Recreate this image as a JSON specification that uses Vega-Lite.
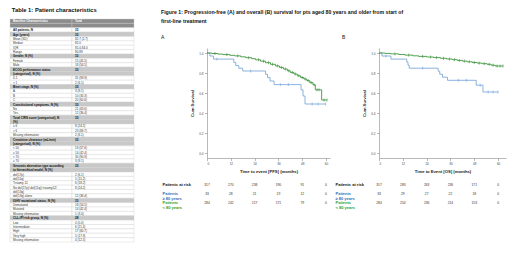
{
  "$schema": "https://vega.github.io/schema/vega-lite/v6.json",
  "background": "white",
  "padding": {"left": 9, "top": 6, "right": 4, "bottom": 4},
  "config": {
    "font": "Liberation Sans",
    "view": {"stroke": null},
    "axis": {"domainColor": "#8a8a8a", "tickColor": "#8a8a8a", "tickSize": 2.5, "domainWidth": 0.6, "tickWidth": 0.6, "labelFontSize": 3, "labelColor": "#444", "labelPadding": 1.5, "titleFontSize": 4.2, "titleFontWeight": "bold", "titleColor": "#222", "grid": false},
    "title": {"color": "#111"}
  },
  "resolve": {"scale": {"color": "independent"}},
  "datasets": {
    "tab": [
      {"line": 1, "label": "Baseline Characteristics", "total": "Total", "kind": "header"},
      {"line": 2, "label": "", "total": "", "kind": "header"},
      {"line": 3, "label": "All patients, N", "total": "33", "kind": "bold"},
      {"line": 4, "label": "Age (years)", "total": "33", "kind": "section"},
      {"line": 5, "label": "Mean (SD)", "total": "82.7 (2.7)", "kind": "item"},
      {"line": 6, "label": "Median", "total": "82.0", "kind": "item"},
      {"line": 7, "label": "IQR", "total": "81.0-84.0", "kind": "item"},
      {"line": 8, "label": "Range", "total": "80-89", "kind": "item"},
      {"line": 9, "label": "Gender, N (%)", "total": "33", "kind": "section"},
      {"line": 10, "label": "Female", "total": "15 (45.5)", "kind": "item"},
      {"line": 11, "label": "Male", "total": "18 (54.5)", "kind": "item"},
      {"line": 12, "label": "ECOG performance status", "total": "33", "kind": "section"},
      {"line": 13, "label": "(categorical), N (%)", "total": "", "kind": "section"},
      {"line": 14, "label": "0-1", "total": "31 (93.9)", "kind": "item"},
      {"line": 15, "label": "> 1", "total": "2 (6.1)", "kind": "item"},
      {"line": 16, "label": "Binet stage, N (%)", "total": "33", "kind": "section"},
      {"line": 17, "label": "A", "total": "3 (9.1)", "kind": "item"},
      {"line": 18, "label": "B", "total": "10 (30.3)", "kind": "item"},
      {"line": 19, "label": "C", "total": "20 (60.6)", "kind": "item"},
      {"line": 20, "label": "Constitutional symptoms, N (%)", "total": "33", "kind": "section"},
      {"line": 21, "label": "No", "total": "21 (63.6)", "kind": "item"},
      {"line": 22, "label": "Yes", "total": "12 (36.4)", "kind": "item"},
      {"line": 23, "label": "Total CIRS score (categorical), N", "total": "33", "kind": "section"},
      {"line": 24, "label": "(%)", "total": "", "kind": "section"},
      {"line": 25, "label": "≤ 6", "total": "8 (24.2)", "kind": "item"},
      {"line": 26, "label": "> 6", "total": "23 (69.7)", "kind": "item"},
      {"line": 27, "label": "Missing information", "total": "2 (6.1)", "kind": "item"},
      {"line": 28, "label": "Creatinine clearance (mL/min)", "total": "33", "kind": "section"},
      {"line": 29, "label": "(categorical), N (%)", "total": "", "kind": "section"},
      {"line": 30, "label": "< 50", "total": "19 (57.6)", "kind": "item"},
      {"line": 31, "label": "≥ 50", "total": "14 (42.4)", "kind": "item"},
      {"line": 32, "label": "< 70", "total": "30 (90.9)", "kind": "item"},
      {"line": 33, "label": "≥ 70", "total": "3 (9.1)", "kind": "item"},
      {"line": 34, "label": "Genomic aberration type according", "total": "33", "kind": "section"},
      {"line": 35, "label": "to hierarchical model, N (%)", "total": "", "kind": "section"},
      {"line": 36, "label": "del(17p)", "total": "2 (6.1)", "kind": "item"},
      {"line": 37, "label": "del(11q)", "total": "5 (15.2)", "kind": "item"},
      {"line": 38, "label": "Trisomy 12", "total": "6 (18.2)", "kind": "item"},
      {"line": 39, "label": "No del(17p)/ del(11q)/ trisomy12/", "total": "8 (24.2)", "kind": "item"},
      {"line": 40, "label": "del(13q)", "total": "", "kind": "item"},
      {"line": 41, "label": "del(13q) alone", "total": "12 (36.4)", "kind": "item"},
      {"line": 42, "label": "IGHV mutational status, N (%)", "total": "33", "kind": "section"},
      {"line": 43, "label": "Unmutated", "total": "18 (54.5)", "kind": "item"},
      {"line": 44, "label": "Mutated", "total": "14 (42.4)", "kind": "item"},
      {"line": 45, "label": "Missing information", "total": "1 (3.0)", "kind": "item"},
      {"line": 46, "label": "CLL-IPI risk group, N (%)", "total": "28", "kind": "section"},
      {"line": 47, "label": "Low", "total": "0 (0.0)", "kind": "item"},
      {"line": 48, "label": "Intermediate", "total": "6 (21.4)", "kind": "item"},
      {"line": 49, "label": "High", "total": "17 (60.7)", "kind": "item"},
      {"line": 50, "label": "Very high", "total": "5 (17.9)", "kind": "item"},
      {"line": 51, "label": "Missing information", "total": "4 (12.5)", "kind": "item"}
    ],
    "km": [
      {"panel": "A", "grp": "≥ 80", "t": 0, "s": 1.0, "c": 0},
      {"panel": "A", "grp": "≥ 80", "t": 1.5, "s": 0.970, "c": 0},
      {"panel": "A", "grp": "≥ 80", "t": 3.3, "s": 0.939, "c": 0},
      {"panel": "A", "grp": "≥ 80", "t": 5, "s": 0.939, "c": 1},
      {"panel": "A", "grp": "≥ 80", "t": 13.5, "s": 0.906, "c": 0},
      {"panel": "A", "grp": "≥ 80", "t": 14.5, "s": 0.874, "c": 0},
      {"panel": "A", "grp": "≥ 80", "t": 16, "s": 0.848, "c": 0},
      {"panel": "A", "grp": "≥ 80", "t": 18, "s": 0.820, "c": 0},
      {"panel": "A", "grp": "≥ 80", "t": 22, "s": 0.820, "c": 1},
      {"panel": "A", "grp": "≥ 80", "t": 29.5, "s": 0.787, "c": 0},
      {"panel": "A", "grp": "≥ 80", "t": 30.5, "s": 0.754, "c": 0},
      {"panel": "A", "grp": "≥ 80", "t": 31.8, "s": 0.720, "c": 0},
      {"panel": "A", "grp": "≥ 80", "t": 33.8, "s": 0.684, "c": 0},
      {"panel": "A", "grp": "≥ 80", "t": 37, "s": 0.684, "c": 1},
      {"panel": "A", "grp": "≥ 80", "t": 41, "s": 0.684, "c": 1},
      {"panel": "A", "grp": "≥ 80", "t": 47.4, "s": 0.632, "c": 0},
      {"panel": "A", "grp": "≥ 80", "t": 48.4, "s": 0.570, "c": 0},
      {"panel": "A", "grp": "≥ 80", "t": 49.4, "s": 0.490, "c": 0},
      {"panel": "A", "grp": "≥ 80", "t": 53, "s": 0.490, "c": 1},
      {"panel": "A", "grp": "≥ 80", "t": 56, "s": 0.490, "c": 1},
      {"panel": "A", "grp": "≥ 80", "t": 59.8, "s": 0.490, "c": 1},
      {"panel": "A", "grp": "< 80", "t": 0, "s": 1.0, "c": 0},
      {"panel": "A", "grp": "< 80", "t": 2.5, "s": 0.995, "c": 0},
      {"panel": "A", "grp": "< 80", "t": 4, "s": 0.995, "c": 1},
      {"panel": "A", "grp": "< 80", "t": 5.5, "s": 0.989, "c": 0},
      {"panel": "A", "grp": "< 80", "t": 8, "s": 0.984, "c": 0},
      {"panel": "A", "grp": "< 80", "t": 10, "s": 0.984, "c": 1},
      {"panel": "A", "grp": "< 80", "t": 11.5, "s": 0.977, "c": 0},
      {"panel": "A", "grp": "< 80", "t": 14, "s": 0.971, "c": 0},
      {"panel": "A", "grp": "< 80", "t": 15.5, "s": 0.971, "c": 1},
      {"panel": "A", "grp": "< 80", "t": 17, "s": 0.962, "c": 0},
      {"panel": "A", "grp": "< 80", "t": 19.5, "s": 0.953, "c": 0},
      {"panel": "A", "grp": "< 80", "t": 21, "s": 0.953, "c": 1},
      {"panel": "A", "grp": "< 80", "t": 22.5, "s": 0.943, "c": 0},
      {"panel": "A", "grp": "< 80", "t": 24.5, "s": 0.932, "c": 0},
      {"panel": "A", "grp": "< 80", "t": 26, "s": 0.932, "c": 1},
      {"panel": "A", "grp": "< 80", "t": 27, "s": 0.918, "c": 0},
      {"panel": "A", "grp": "< 80", "t": 28.5, "s": 0.918, "c": 1},
      {"panel": "A", "grp": "< 80", "t": 29.5, "s": 0.903, "c": 0},
      {"panel": "A", "grp": "< 80", "t": 31, "s": 0.903, "c": 1},
      {"panel": "A", "grp": "< 80", "t": 32, "s": 0.887, "c": 0},
      {"panel": "A", "grp": "< 80", "t": 33, "s": 0.887, "c": 1},
      {"panel": "A", "grp": "< 80", "t": 34.5, "s": 0.871, "c": 0},
      {"panel": "A", "grp": "< 80", "t": 35.5, "s": 0.871, "c": 1},
      {"panel": "A", "grp": "< 80", "t": 36.5, "s": 0.856, "c": 0},
      {"panel": "A", "grp": "< 80", "t": 37.5, "s": 0.856, "c": 1},
      {"panel": "A", "grp": "< 80", "t": 38.5, "s": 0.840, "c": 0},
      {"panel": "A", "grp": "< 80", "t": 39.5, "s": 0.840, "c": 1},
      {"panel": "A", "grp": "< 80", "t": 40.5, "s": 0.822, "c": 0},
      {"panel": "A", "grp": "< 80", "t": 41.2, "s": 0.822, "c": 1},
      {"panel": "A", "grp": "< 80", "t": 42, "s": 0.806, "c": 0},
      {"panel": "A", "grp": "< 80", "t": 43, "s": 0.806, "c": 1},
      {"panel": "A", "grp": "< 80", "t": 43.8, "s": 0.790, "c": 0},
      {"panel": "A", "grp": "< 80", "t": 44.5, "s": 0.790, "c": 1},
      {"panel": "A", "grp": "< 80", "t": 45.5, "s": 0.772, "c": 0},
      {"panel": "A", "grp": "< 80", "t": 46.3, "s": 0.772, "c": 1},
      {"panel": "A", "grp": "< 80", "t": 47.2, "s": 0.755, "c": 0},
      {"panel": "A", "grp": "< 80", "t": 48, "s": 0.755, "c": 1},
      {"panel": "A", "grp": "< 80", "t": 48.8, "s": 0.740, "c": 0},
      {"panel": "A", "grp": "< 80", "t": 49.5, "s": 0.740, "c": 1},
      {"panel": "A", "grp": "< 80", "t": 50.3, "s": 0.724, "c": 0},
      {"panel": "A", "grp": "< 80", "t": 51, "s": 0.724, "c": 1},
      {"panel": "A", "grp": "< 80", "t": 51.8, "s": 0.704, "c": 0},
      {"panel": "A", "grp": "< 80", "t": 52.5, "s": 0.704, "c": 1},
      {"panel": "A", "grp": "< 80", "t": 53.4, "s": 0.682, "c": 0},
      {"panel": "A", "grp": "< 80", "t": 54, "s": 0.682, "c": 1},
      {"panel": "A", "grp": "< 80", "t": 54.6, "s": 0.632, "c": 0},
      {"panel": "A", "grp": "< 80", "t": 55.5, "s": 0.632, "c": 1},
      {"panel": "A", "grp": "< 80", "t": 56.5, "s": 0.632, "c": 1},
      {"panel": "A", "grp": "< 80", "t": 57.8, "s": 0.530, "c": 0},
      {"panel": "A", "grp": "< 80", "t": 59, "s": 0.530, "c": 1},
      {"panel": "A", "grp": "< 80", "t": 60.5, "s": 0.530, "c": 1},
      {"panel": "B", "grp": "≥ 80", "t": 0, "s": 1.0, "c": 0},
      {"panel": "B", "grp": "≥ 80", "t": 1.5, "s": 0.970, "c": 0},
      {"panel": "B", "grp": "≥ 80", "t": 3.5, "s": 0.970, "c": 1},
      {"panel": "B", "grp": "≥ 80", "t": 6, "s": 0.939, "c": 0},
      {"panel": "B", "grp": "≥ 80", "t": 14, "s": 0.909, "c": 0},
      {"panel": "B", "grp": "≥ 80", "t": 14.6, "s": 0.879, "c": 0},
      {"panel": "B", "grp": "≥ 80", "t": 15.2, "s": 0.848, "c": 0},
      {"panel": "B", "grp": "≥ 80", "t": 22, "s": 0.848, "c": 1},
      {"panel": "B", "grp": "≥ 80", "t": 29.8, "s": 0.818, "c": 0},
      {"panel": "B", "grp": "≥ 80", "t": 30.6, "s": 0.788, "c": 0},
      {"panel": "B", "grp": "≥ 80", "t": 32, "s": 0.758, "c": 0},
      {"panel": "B", "grp": "≥ 80", "t": 34.5, "s": 0.727, "c": 0},
      {"panel": "B", "grp": "≥ 80", "t": 40, "s": 0.727, "c": 1},
      {"panel": "B", "grp": "≥ 80", "t": 44, "s": 0.727, "c": 1},
      {"panel": "B", "grp": "≥ 80", "t": 49, "s": 0.678, "c": 0},
      {"panel": "B", "grp": "≥ 80", "t": 51, "s": 0.678, "c": 1},
      {"panel": "B", "grp": "≥ 80", "t": 52.4, "s": 0.610, "c": 0},
      {"panel": "B", "grp": "≥ 80", "t": 55, "s": 0.610, "c": 1},
      {"panel": "B", "grp": "≥ 80", "t": 57.5, "s": 0.610, "c": 1},
      {"panel": "B", "grp": "≥ 80", "t": 60, "s": 0.610, "c": 1},
      {"panel": "B", "grp": "< 80", "t": 0, "s": 1.0, "c": 0},
      {"panel": "B", "grp": "< 80", "t": 3, "s": 0.996, "c": 0},
      {"panel": "B", "grp": "< 80", "t": 6, "s": 0.991, "c": 0},
      {"panel": "B", "grp": "< 80", "t": 8, "s": 0.991, "c": 1},
      {"panel": "B", "grp": "< 80", "t": 10, "s": 0.985, "c": 0},
      {"panel": "B", "grp": "< 80", "t": 13, "s": 0.979, "c": 0},
      {"panel": "B", "grp": "< 80", "t": 15, "s": 0.979, "c": 1},
      {"panel": "B", "grp": "< 80", "t": 17, "s": 0.972, "c": 0},
      {"panel": "B", "grp": "< 80", "t": 20, "s": 0.966, "c": 0},
      {"panel": "B", "grp": "< 80", "t": 22, "s": 0.966, "c": 1},
      {"panel": "B", "grp": "< 80", "t": 24, "s": 0.960, "c": 0},
      {"panel": "B", "grp": "< 80", "t": 26, "s": 0.960, "c": 1},
      {"panel": "B", "grp": "< 80", "t": 27.5, "s": 0.954, "c": 0},
      {"panel": "B", "grp": "< 80", "t": 29, "s": 0.954, "c": 1},
      {"panel": "B", "grp": "< 80", "t": 31, "s": 0.947, "c": 0},
      {"panel": "B", "grp": "< 80", "t": 32.5, "s": 0.947, "c": 1},
      {"panel": "B", "grp": "< 80", "t": 34, "s": 0.940, "c": 0},
      {"panel": "B", "grp": "< 80", "t": 35.5, "s": 0.940, "c": 1},
      {"panel": "B", "grp": "< 80", "t": 37, "s": 0.933, "c": 0},
      {"panel": "B", "grp": "< 80", "t": 38, "s": 0.933, "c": 1},
      {"panel": "B", "grp": "< 80", "t": 39.5, "s": 0.926, "c": 0},
      {"panel": "B", "grp": "< 80", "t": 40.5, "s": 0.926, "c": 1},
      {"panel": "B", "grp": "< 80", "t": 42, "s": 0.919, "c": 0},
      {"panel": "B", "grp": "< 80", "t": 43, "s": 0.919, "c": 1},
      {"panel": "B", "grp": "< 80", "t": 44.5, "s": 0.912, "c": 0},
      {"panel": "B", "grp": "< 80", "t": 45.5, "s": 0.912, "c": 1},
      {"panel": "B", "grp": "< 80", "t": 47, "s": 0.905, "c": 0},
      {"panel": "B", "grp": "< 80", "t": 48, "s": 0.905, "c": 1},
      {"panel": "B", "grp": "< 80", "t": 49.5, "s": 0.899, "c": 0},
      {"panel": "B", "grp": "< 80", "t": 50.5, "s": 0.899, "c": 1},
      {"panel": "B", "grp": "< 80", "t": 52, "s": 0.893, "c": 0},
      {"panel": "B", "grp": "< 80", "t": 53, "s": 0.893, "c": 1},
      {"panel": "B", "grp": "< 80", "t": 54.5, "s": 0.887, "c": 0},
      {"panel": "B", "grp": "< 80", "t": 55.5, "s": 0.887, "c": 1},
      {"panel": "B", "grp": "< 80", "t": 56.5, "s": 0.878, "c": 0},
      {"panel": "B", "grp": "< 80", "t": 57.5, "s": 0.878, "c": 1},
      {"panel": "B", "grp": "< 80", "t": 58.5, "s": 0.870, "c": 0},
      {"panel": "B", "grp": "< 80", "t": 59.5, "s": 0.870, "c": 1},
      {"panel": "B", "grp": "< 80", "t": 61, "s": 0.870, "c": 1},
      {"panel": "B", "grp": "< 80", "t": 62.5, "s": 0.870, "c": 1}
    ],
    "risk": [
      {"panel": "A", "row": "Patients at risk", "t": 0, "n": 317},
      {"panel": "A", "row": "Patients at risk", "t": 12, "n": 270},
      {"panel": "A", "row": "Patients at risk", "t": 24, "n": 238},
      {"panel": "A", "row": "Patients at risk", "t": 36, "n": 190},
      {"panel": "A", "row": "Patients at risk", "t": 48, "n": 91},
      {"panel": "A", "row": "Patients at risk", "t": 60, "n": 0},
      {"panel": "A", "row": "Patients|≥ 80 years", "t": 0, "n": 33},
      {"panel": "A", "row": "Patients|≥ 80 years", "t": 12, "n": 28},
      {"panel": "A", "row": "Patients|≥ 80 years", "t": 24, "n": 21},
      {"panel": "A", "row": "Patients|≥ 80 years", "t": 36, "n": 19},
      {"panel": "A", "row": "Patients|≥ 80 years", "t": 48, "n": 12},
      {"panel": "A", "row": "Patients|≥ 80 years", "t": 60, "n": 0},
      {"panel": "A", "row": "Patients|< 80 years", "t": 0, "n": 284},
      {"panel": "A", "row": "Patients|< 80 years", "t": 12, "n": 242},
      {"panel": "A", "row": "Patients|< 80 years", "t": 24, "n": 217},
      {"panel": "A", "row": "Patients|< 80 years", "t": 36, "n": 171},
      {"panel": "A", "row": "Patients|< 80 years", "t": 48, "n": 79},
      {"panel": "A", "row": "Patients|< 80 years", "t": 60, "n": 0},
      {"panel": "B", "row": "Patients at risk", "t": 0, "n": 317},
      {"panel": "B", "row": "Patients at risk", "t": 12, "n": 283},
      {"panel": "B", "row": "Patients at risk", "t": 24, "n": 263},
      {"panel": "B", "row": "Patients at risk", "t": 36, "n": 236},
      {"panel": "B", "row": "Patients at risk", "t": 48, "n": 171},
      {"panel": "B", "row": "Patients at risk", "t": 60, "n": 0},
      {"panel": "B", "row": "Patients|≥ 80 years", "t": 0, "n": 33},
      {"panel": "B", "row": "Patients|≥ 80 years", "t": 12, "n": 29},
      {"panel": "B", "row": "Patients|≥ 80 years", "t": 24, "n": 27},
      {"panel": "B", "row": "Patients|≥ 80 years", "t": 36, "n": 22},
      {"panel": "B", "row": "Patients|≥ 80 years", "t": 48, "n": 18},
      {"panel": "B", "row": "Patients|≥ 80 years", "t": 60, "n": 0},
      {"panel": "B", "row": "Patients|< 80 years", "t": 0, "n": 284},
      {"panel": "B", "row": "Patients|< 80 years", "t": 12, "n": 254},
      {"panel": "B", "row": "Patients|< 80 years", "t": 24, "n": 236},
      {"panel": "B", "row": "Patients|< 80 years", "t": 36, "n": 214},
      {"panel": "B", "row": "Patients|< 80 years", "t": 48, "n": 153},
      {"panel": "B", "row": "Patients|< 80 years", "t": 60, "n": 0}
    ]
  },
  "spacing": 26,
  "hconcat": [
    {
      "title": {"text": "Table 1: Patient characteristics", "anchor": "start", "fontSize": 5.8, "fontWeight": "bold", "offset": 6.5, "dx": 2},
      "width": 124,
      "height": 223,
      "data": {"name": "tab"},
      "transform": [{"fold": ["label", "total"], "as": ["col", "text"]}],
      "encoding": {
        "y": {"field": "line", "type": "ordinal", "axis": null, "scale": {"paddingInner": 0, "paddingOuter": 0}},
        "x": {"field": "col", "type": "nominal", "axis": null, "scale": {"domain": ["label", "total"], "paddingInner": 0, "paddingOuter": 0}}
      },
      "layer": [
        {
          "mark": {"type": "rect", "stroke": "#d2d2d2", "strokeWidth": 0.4},
          "encoding": {"color": {"field": "kind", "type": "nominal", "scale": {"domain": ["header", "section", "bold", "item"], "range": ["#8c8c8c", "#c8c8c8", "#ffffff", "#ffffff"]}, "legend": null}}
        },
        {
          "transform": [{"filter": "datum.kind == 'header'"}],
          "mark": {"type": "text", "align": "left", "dx": 3, "fontSize": 3, "fontWeight": "bold", "color": "#ffffff"},
          "encoding": {"x": {"field": "col", "type": "nominal", "bandPosition": 0}, "text": {"field": "text"}}
        },
        {
          "transform": [{"filter": "datum.kind == 'section' || datum.kind == 'bold'"}],
          "mark": {"type": "text", "align": "left", "dx": 3, "fontSize": 3, "fontWeight": "bold", "color": "#111111"},
          "encoding": {"x": {"field": "col", "type": "nominal", "bandPosition": 0}, "text": {"field": "text"}}
        },
        {
          "transform": [{"filter": "datum.kind == 'item'"}],
          "mark": {"type": "text", "align": "left", "dx": 3, "fontSize": 3, "color": "#333333"},
          "encoding": {"x": {"field": "col", "type": "nominal", "bandPosition": 0}, "text": {"field": "text"}}
        }
      ]
    },
    {
      "title": {"text": ["Figure 1: Progression-free (A) and overall (B) survival for pts aged 80 years and older from start of", "first-line treatment"], "anchor": "start", "fontSize": 5.2, "fontWeight": "bold", "lineHeight": 9, "offset": -5.3, "dx": 0},
      "spacing": 0,
      "vconcat": [
        {
          "width": 1,
          "height": 15.7,
          "data": {"values": [{"k": 1}]},
          "mark": {"type": "text", "text": ""}
        },
        {
          "spacing": 5,
          "hconcat": [
            {
              "title": {"text": "A", "anchor": "start", "fontSize": 5, "fontWeight": "normal", "offset": 8, "dx": -1},
              "spacing": 4,
              "vconcat": [
                {
                  "width": 123,
                  "height": 110,
                  "data": {"name": "km"},
                  "transform": [{"filter": "datum.panel == 'A'"}],
                  "encoding": {
                    "x": {"field": "t", "type": "quantitative", "scale": {"domain": [0, 62], "nice": false}, "axis": {"values": [0, 12, 24, 36, 48, 60], "title": "Time to event [PFS] (months)", "titlePadding": 4}},
                    "y": {"field": "s", "type": "quantitative", "scale": {"domain": [-0.05, 1.05], "nice": false, "zero": false}, "axis": {"values": [0, 0.2, 0.4, 0.6, 0.8, 1], "format": ".1f", "title": "Cum Survival", "titlePadding": 4}},
                    "color": {"field": "grp", "type": "nominal", "scale": {"domain": ["< 80", "≥ 80"], "range": ["#2a8a2a", "#6e9fd6"]}, "legend": null}
                  },
                  "layer": [
                    {"mark": {"type": "line", "interpolate": "step-after", "strokeWidth": 0.8}},
                    {"transform": [{"filter": "datum.c == 1"}], "mark": {"type": "point", "shape": "M0,-1L0,1", "size": 9, "strokeWidth": 0.6, "filled": false, "opacity": 1}}
                  ]
                },
                {
                  "width": 123,
                  "height": 27,
                  "data": {"name": "risk"},
                  "transform": [{"filter": "datum.panel == 'A'"}],
                  "mark": {"type": "text", "fontSize": 3.3, "baseline": "top", "color": "#333333"},
                  "encoding": {
                    "x": {"field": "t", "type": "quantitative", "scale": {"domain": [0, 62], "nice": false}, "axis": null},
                    "y": {"field": "row", "type": "nominal", "scale": {"type": "point", "domain": ["Patients at risk", "Patients|≥ 80 years", "Patients|< 80 years"], "padding": 0.5}, "axis": {"title": null, "domain": false, "ticks": false, "tickSize": 0, "labelAlign": "left", "labelBaseline": "top", "labelPadding": 45, "labelFontSize": 4, "labelFontWeight": "bold", "labelLineHeight": 4.6, "labelExpr": "split(datum.value, '|')", "labelColor": {"condition": [{"test": "indexof(datum.value, '≥') >= 0", "value": "#2f70b8"}, {"test": "indexof(datum.value, '< 80') >= 0", "value": "#2ea02e"}], "value": "#111111"}}},
                    "text": {"field": "n", "type": "quantitative"}
                  }
                }
              ]
            },
            {
              "title": {"text": "B", "anchor": "start", "fontSize": 5, "fontWeight": "normal", "offset": 8, "dx": 7},
              "spacing": 4,
              "vconcat": [
                {
                  "width": 127,
                  "height": 110,
                  "data": {"name": "km"},
                  "transform": [{"filter": "datum.panel == 'B'"}],
                  "encoding": {
                    "x": {"field": "t", "type": "quantitative", "scale": {"domain": [0, 64], "nice": false}, "axis": {"values": [0, 12, 24, 36, 48, 60], "title": "Time to Event [OS] (months)", "titlePadding": 4}},
                    "y": {"field": "s", "type": "quantitative", "scale": {"domain": [-0.05, 1.05], "nice": false, "zero": false}, "axis": {"values": [0, 0.2, 0.4, 0.6, 0.8, 1], "format": ".1f", "title": "Cum Survival", "titlePadding": 4}},
                    "color": {"field": "grp", "type": "nominal", "scale": {"domain": ["< 80", "≥ 80"], "range": ["#2a8a2a", "#6e9fd6"]}, "legend": null}
                  },
                  "layer": [
                    {"mark": {"type": "line", "interpolate": "step-after", "strokeWidth": 0.8}},
                    {"transform": [{"filter": "datum.c == 1"}], "mark": {"type": "point", "shape": "M0,-1L0,1", "size": 9, "strokeWidth": 0.6, "filled": false, "opacity": 1}}
                  ]
                },
                {
                  "width": 127,
                  "height": 27,
                  "data": {"name": "risk"},
                  "transform": [{"filter": "datum.panel == 'B'"}],
                  "mark": {"type": "text", "fontSize": 3.3, "baseline": "top", "color": "#333333"},
                  "encoding": {
                    "x": {"field": "t", "type": "quantitative", "scale": {"domain": [0, 64], "nice": false}, "axis": null},
                    "y": {"field": "row", "type": "nominal", "scale": {"type": "point", "domain": ["Patients at risk", "Patients|≥ 80 years", "Patients|< 80 years"], "padding": 0.5}, "axis": {"title": null, "domain": false, "ticks": false, "tickSize": 0, "labelAlign": "left", "labelBaseline": "top", "labelPadding": 44, "labelFontSize": 4, "labelFontWeight": "bold", "labelLineHeight": 4.6, "labelExpr": "split(datum.value, '|')", "labelColor": {"condition": [{"test": "indexof(datum.value, '≥') >= 0", "value": "#2f70b8"}, {"test": "indexof(datum.value, '< 80') >= 0", "value": "#2ea02e"}], "value": "#111111"}}},
                    "text": {"field": "n", "type": "quantitative"}
                  }
                }
              ]
            }
          ]
        }
      ]
    }
  ]
}
